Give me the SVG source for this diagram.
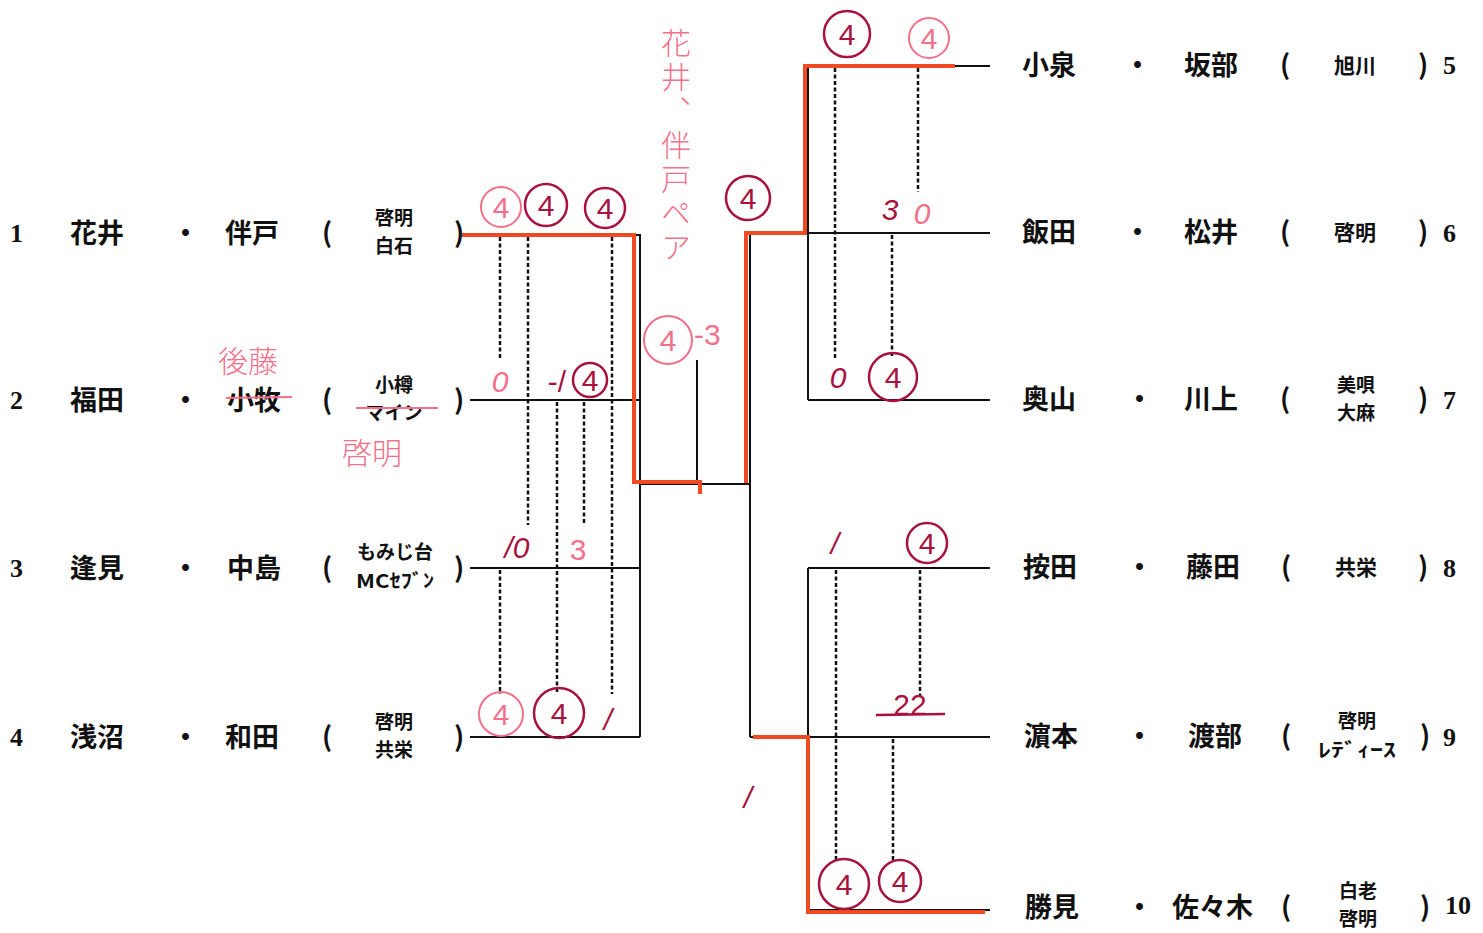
<svg xmlns="http://www.w3.org/2000/svg" width="1483" height="933" viewBox="0 0 1483 933">
<defs>
<style>
.nm{font-family:"Noto Sans CJK JP","Noto Sans CJK SC",sans-serif;font-size:27px;font-weight:bold;fill:#111}
.cl{font-family:"Noto Sans CJK JP","Noto Sans CJK SC",sans-serif;font-size:19px;font-weight:bold;fill:#111}
.c1{font-family:"Noto Sans CJK JP","Noto Sans CJK SC",sans-serif;font-size:21px;font-weight:bold;fill:#111}
.num{font-family:"Liberation Serif",serif;font-size:26px;font-weight:bold;fill:#111}
.ln{stroke:#111;stroke-width:2;fill:none}
.dash{stroke:#111;stroke-width:2.5;stroke-dasharray:4 2.5;fill:none}
.red{stroke:#f04a22;stroke-width:4;fill:none}
.pk{fill:none;stroke:#f2708a;stroke-width:2}
.dk{fill:none;stroke:#a8123e;stroke-width:2.5}
.hp{font-family:"Liberation Sans",sans-serif;font-size:30px;fill:#f2708a}
.hd{font-family:"Liberation Sans",sans-serif;font-size:30px;fill:#a8123e}
.hj{font-family:"Noto Sans CJK JP",sans-serif;font-size:30px;fill:#f2708a;font-weight:300}
</style>
</defs>
<rect width="1483" height="933" fill="#fff"/>

<g id="connectors">
<path class="ln" d="M470,235 H640 V737 M470,400 H640 M470,568 H640 M470,737 H640 M640,484 H750 M697,360 V484"/>
<path class="ln" d="M750,233 V737 M750,233 H808 M750,737 H808 M808,66 V400 M808,568 V910 M808,66 H990 M808,233 H990 M808,400 H990 M808,568 H990 M808,737 H990 M808,910 H990"/>
<path class="dash" d="M500,237 V360 M500,570 V694 M528,237 V525 M557,402 V694 M584,402 V525 M612,237 V694 M835,68 V358 M918,68 V192 M892,235 V358 M836,570 V862 M920,570 V697 M893,739 V860"/>
<path class="red" d="M462,235 H634 V482 H700 V494"/>
<path class="red" d="M746,483 V233 H805 V66 H955"/>
<path class="red" d="M753,737 H808 V912 H985"/>
</g>

<g id="left-1">
<text class="num" x="10" y="242">1</text>
<text class="nm" x="70" y="243">花井</text>
<text class="nm" x="172" y="243">・</text>
<text class="nm" x="225" y="243">伴戸</text>
<text class="nm" x="322" y="243">(</text>
<text class="cl" x="394" y="225" text-anchor="middle">啓明</text>
<text class="cl" x="394" y="253" text-anchor="middle">白石</text>
<text class="nm" x="454" y="243">)</text>
</g>
<g id="left-2">
<text class="num" x="10" y="409">2</text>
<text class="nm" x="70" y="410">福田</text>
<text class="nm" x="172" y="410">・</text>
<text class="nm" x="227" y="410">小牧</text>
<text class="nm" x="322" y="410">(</text>
<text class="cl" x="394" y="392" text-anchor="middle">小樽</text>
<text class="cl" x="394" y="420" text-anchor="middle">マイン</text>
<text class="nm" x="454" y="410">)</text>
</g>
<g id="left-3">
<text class="num" x="10" y="577">3</text>
<text class="nm" x="70" y="578">逢見</text>
<text class="nm" x="172" y="578">・</text>
<text class="nm" x="227" y="578">中島</text>
<text class="nm" x="322" y="578">(</text>
<text class="cl" x="395" y="559" text-anchor="middle" font-size="21">もみじ台</text>
<text class="cl" x="395" y="588" text-anchor="middle" font-size="17" textLength="78" lengthAdjust="spacingAndGlyphs">MCｾﾌﾞﾝ</text>
<text class="nm" x="454" y="578">)</text>
</g>
<g id="left-4">
<text class="num" x="10" y="746">4</text>
<text class="nm" x="70" y="747">浅沼</text>
<text class="nm" x="172" y="747">・</text>
<text class="nm" x="225" y="747">和田</text>
<text class="nm" x="322" y="747">(</text>
<text class="cl" x="394" y="729" text-anchor="middle">啓明</text>
<text class="cl" x="394" y="757" text-anchor="middle">共栄</text>
<text class="nm" x="454" y="747">)</text>
</g>

<g id="right-5">
<text class="nm" x="1022" y="75">小泉</text>
<text class="nm" x="1124" y="75">・</text>
<text class="nm" x="1184" y="75">坂部</text>
<text class="nm" x="1280" y="75">(</text>
<text class="c1" x="1355" y="73" text-anchor="middle">旭川</text>
<text class="nm" x="1418" y="75">)</text>
<text class="num" x="1443" y="74">5</text>
</g>
<g id="right-6">
<text class="nm" x="1022" y="242">飯田</text>
<text class="nm" x="1124" y="242">・</text>
<text class="nm" x="1184" y="242">松井</text>
<text class="nm" x="1280" y="242">(</text>
<text class="c1" x="1355" y="240" text-anchor="middle">啓明</text>
<text class="nm" x="1418" y="242">)</text>
<text class="num" x="1443" y="242">6</text>
</g>
<g id="right-7">
<text class="nm" x="1022" y="409">奥山</text>
<text class="nm" x="1126" y="409">・</text>
<text class="nm" x="1184" y="409">川上</text>
<text class="nm" x="1280" y="409">(</text>
<text class="cl" x="1356" y="392" text-anchor="middle">美唄</text>
<text class="cl" x="1356" y="420" text-anchor="middle">大麻</text>
<text class="nm" x="1418" y="409">)</text>
<text class="num" x="1443" y="409">7</text>
</g>
<g id="right-8">
<text class="nm" x="1023" y="577">按田</text>
<text class="nm" x="1126" y="577">・</text>
<text class="nm" x="1186" y="577">藤田</text>
<text class="nm" x="1281" y="577">(</text>
<text class="c1" x="1356" y="575" text-anchor="middle">共栄</text>
<text class="nm" x="1418" y="577">)</text>
<text class="num" x="1443" y="577">8</text>
</g>
<g id="right-9">
<text class="nm" x="1024" y="746">濵本</text>
<text class="nm" x="1126" y="746">・</text>
<text class="nm" x="1188" y="746">渡部</text>
<text class="nm" x="1281" y="746">(</text>
<text class="cl" x="1357" y="728" text-anchor="middle">啓明</text>
<text class="cl" x="1357" y="757" text-anchor="middle" font-size="17" textLength="78" lengthAdjust="spacingAndGlyphs">ﾚﾃﾞｨｰｽ</text>
<text class="nm" x="1420" y="746">)</text>
<text class="num" x="1443" y="746">9</text>
</g>
<g id="right-10">
<text class="nm" x="1025" y="917">勝見</text>
<text class="nm" x="1126" y="917">・</text>
<text class="nm" x="1172" y="917">佐々木</text>
<text class="nm" x="1281" y="917">(</text>
<text class="cl" x="1358" y="898" text-anchor="middle">白老</text>
<text class="cl" x="1358" y="926" text-anchor="middle">啓明</text>
<text class="nm" x="1420" y="917">)</text>
<text class="num" x="1445" y="914" font-size="17">10</text>
</g>

<g id="annotations">
<text class="hj" x="218" y="372" font-size="30">後藤</text>
<line x1="226" y1="398" x2="292" y2="397" stroke="#f2708a" stroke-width="2"/>
<line x1="356" y1="408" x2="438" y2="408" stroke="#f2708a" stroke-width="2"/>
<text class="hj" x="342" y="464" font-size="36">啓明</text>
<text class="hj" x="676" y="28" style="writing-mode:vertical-rl" letter-spacing="4">花井、伴戸ペア</text>
<circle class="pk" cx="501" cy="207" r="20"/><text class="hp" x="501" y="218" text-anchor="middle">4</text>
<circle class="dk" cx="546" cy="205" r="21"/><text class="hd" x="546" y="216" text-anchor="middle">4</text>
<circle class="dk" cx="605" cy="208" r="20"/><text class="hd" x="605" y="219" text-anchor="middle">4</text>
<text class="hp" x="500" y="392" text-anchor="middle" font-style="italic">0</text>
<text class="hd" x="557" y="392" text-anchor="middle">-/</text>
<circle class="dk" cx="590" cy="380" r="17"/><text class="hd" x="590" y="391" text-anchor="middle" font-size="26">4</text>
<circle class="pk" cx="668" cy="340" r="24"/><text class="hp" x="668" y="351" text-anchor="middle" font-size="34">4</text>
<text class="hp" x="694" y="345" font-size="30">-3</text>
<text class="hd" x="517" y="558" text-anchor="middle" font-style="italic">/0</text>
<text class="hp" x="578" y="560" text-anchor="middle" font-size="36">3</text>
<circle class="pk" cx="501" cy="714" r="22"/><text class="hp" x="501" y="725" text-anchor="middle">4</text>
<circle class="dk" cx="559" cy="713" r="25"/><text class="hd" x="559" y="724" text-anchor="middle">4</text>
<text class="hd" x="608" y="730" text-anchor="middle" font-size="40" font-style="italic">/</text>
<circle class="dk" cx="748" cy="198" r="22"/><text class="hd" x="748" y="209" text-anchor="middle">4</text>
<text class="hd" x="748" y="808" text-anchor="middle" font-size="48" font-style="italic">/</text>
<circle class="dk" cx="847" cy="34" r="23"/><text class="hd" x="847" y="45" text-anchor="middle">4</text>
<circle class="pk" cx="929" cy="38" r="20"/><text class="hp" x="929" y="49" text-anchor="middle">4</text>
<text class="hd" x="890" y="220" text-anchor="middle" font-style="italic">3</text>
<text class="hp" x="922" y="224" text-anchor="middle" font-style="italic">0</text>
<text class="hd" x="838" y="388" text-anchor="middle" font-style="italic" font-size="34">0</text>
<circle class="dk" cx="893" cy="377" r="24"/><text class="hd" x="893" y="388" text-anchor="middle">4</text>
<text class="hd" x="835" y="554" text-anchor="middle" font-size="36" font-style="italic">/</text>
<circle class="dk" cx="927" cy="543" r="20"/><text class="hd" x="927" y="554" text-anchor="middle">4</text>
<text class="hd" x="910" y="715" text-anchor="middle" font-size="30">22</text>
<line x1="876" y1="715" x2="945" y2="714" stroke="#a8123e" stroke-width="2.5"/>
<circle class="dk" cx="844" cy="884" r="25"/><text class="hd" x="844" y="895" text-anchor="middle">4</text>
<circle class="dk" cx="900" cy="881" r="21"/><text class="hd" x="900" y="892" text-anchor="middle">4</text>
</g>
</svg>
